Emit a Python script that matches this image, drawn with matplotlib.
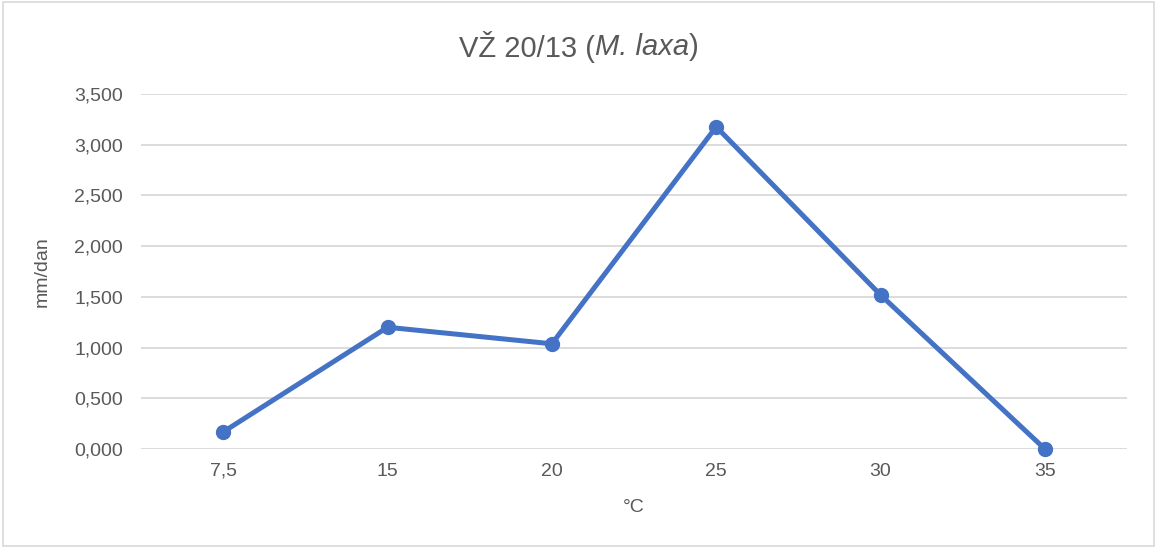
import numpy as np
import matplotlib.pyplot as plt
from matplotlib.patches import Rectangle
from matplotlib.ticker import FuncFormatter

plt.rcParams['font.family'] = ['Liberation Sans', 'DejaVu Sans']

# temperature categories and growth (mm/dan)
temps = ['7,5', '15', '20', '25', '30', '35']
growth = [0.168, 1.20, 1.037, 3.176, 1.519, 0.0]

text_col = '#595959'
line_col = '#4472C4'

fig = plt.figure(figsize=(11.57, 5.48), dpi=100)
ax = fig.add_axes([0.1219, 0.1807, 0.8522, 0.6478])

x = np.arange(len(temps))
ax.plot(x, growth, color=line_col, lw=3.6, marker='o', ms=10,
        solid_joinstyle='round', zorder=3, clip_on=False)

ax.set_xlim(-0.5, len(temps) - 0.5)
ax.set_ylim(0, 3.5)
ax.set_yticks(np.arange(0, 3.51, 0.5))
ax.yaxis.set_major_formatter(FuncFormatter(lambda v, p: f'{v:.3f}'.replace('.', ',')))
ax.set_xticks(x)
ax.set_xticklabels(temps)

ax.grid(axis='y', color='#D9D9D9', lw=1.3)
ax.set_axisbelow(True)
for s in ax.spines.values():
    s.set_visible(False)
ax.tick_params(length=0, colors=text_col, labelsize=14)
ax.tick_params(axis='y', pad=13)
ax.tick_params(axis='x', pad=10)

ax.set_ylabel('mm/dan', color=text_col, fontsize=14, labelpad=17)
ax.set_xlabel('°C', color=text_col, fontsize=14, labelpad=14)

# title in three parts, middle one italic
parts = [('VŽ 20/13 (', 'normal'), ('M. laxa', 'italic'), (')', 'normal')]
fig.canvas.draw()
r = fig.canvas.get_renderer()
texts = [fig.text(0, 0.915, s, style=st, fontsize=21, color=text_col, va='center')
         for s, st in parts]
widths = [t.get_window_extent(r).width for t in texts]
xpos = (fig.bbox.width - sum(widths)) / 2
for t, w in zip(texts, widths):
    t.set_x(xpos / fig.bbox.width)
    xpos += w

fig.patches.append(Rectangle((0.003, 0.003), 0.994, 0.994, transform=fig.transFigure,
                             fill=False, ec='#D9D9D9', lw=1.2))

fig.savefig('out.png', dpi=100)
